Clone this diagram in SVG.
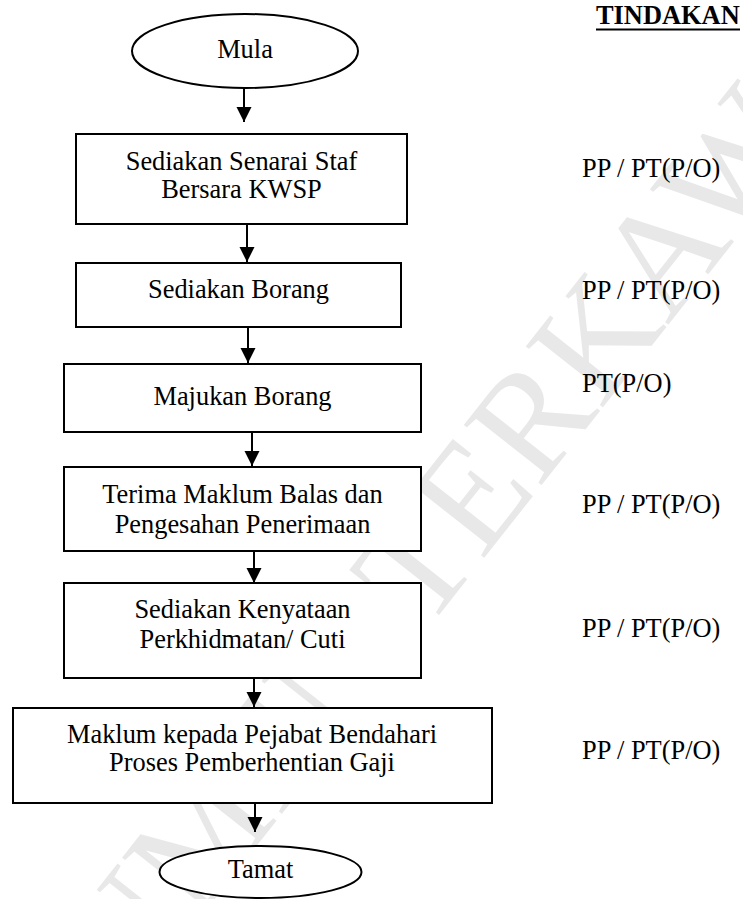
<svg xmlns="http://www.w3.org/2000/svg" width="743" height="899" viewBox="0 0 743 899">
<style>
.t{font-family:"Liberation Serif","Times New Roman",serif;font-size:26.4px;fill:#000}
.c{text-anchor:middle}
.box{fill:#fff;stroke:#000;stroke-width:2}
.wm{font-family:"Liberation Serif","Times New Roman",serif;font-size:150px;fill:#e8e8e8}
.con{stroke:#000;stroke-width:2;fill:none}
</style>
<defs>
<marker id="ah" markerUnits="userSpaceOnUse" markerWidth="16" markerHeight="16" refX="15" refY="7.5" orient="auto">
<path d="M0,0 L15,7.5 L0,15 z" fill="#000"/>
</marker>
</defs>
<rect width="743" height="899" fill="#fff"/>
<text class="wm" transform="translate(-72,1262) rotate(-51.7)">DOKUMEN TERKAWAL</text>
<g id="connectors">
<line class="con" x1="244" y1="89" x2="244" y2="122" marker-end="url(#ah)"/>
<line class="con" x1="247" y1="225" x2="247" y2="262" marker-end="url(#ah)"/>
<line class="con" x1="248" y1="328" x2="248" y2="363" marker-end="url(#ah)"/>
<line class="con" x1="252" y1="433" x2="252" y2="466" marker-end="url(#ah)"/>
<line class="con" x1="254" y1="552" x2="254" y2="583" marker-end="url(#ah)"/>
<line class="con" x1="254" y1="679" x2="254" y2="707" marker-end="url(#ah)"/>
<line class="con" x1="255" y1="804" x2="255" y2="832" marker-end="url(#ah)"/>
</g>
<g id="mula">
<ellipse class="box" cx="245" cy="51" rx="113" ry="37"/>
<text class="t c" x="245" y="58">Mula</text>
</g>
<g id="step1">
<rect class="box" x="76" y="134" width="331" height="90"/>
<text class="t c" x="241.5" y="170">Sediakan Senarai Staf</text>
<text class="t c" x="241.5" y="198">Bersara KWSP</text>
</g>
<g id="step2">
<rect class="box" x="76" y="263" width="325" height="64"/>
<text class="t c" x="238.5" y="298">Sediakan Borang</text>
</g>
<g id="step3">
<rect class="box" x="64" y="364" width="357" height="68"/>
<text class="t c" x="242.5" y="405">Majukan Borang</text>
</g>
<g id="step4">
<rect class="box" x="64" y="467" width="357" height="84"/>
<text class="t c" x="242.5" y="503">Terima Maklum Balas dan</text>
<text class="t c" x="242.5" y="533">Pengesahan Penerimaan</text>
</g>
<g id="step5">
<rect class="box" x="64" y="583" width="357" height="95"/>
<text class="t c" x="242.5" y="618">Sediakan Kenyataan</text>
<text class="t c" x="242.5" y="648">Perkhidmatan/ Cuti</text>
</g>
<g id="step6">
<rect class="box" x="13" y="708" width="479" height="95"/>
<text class="t c" x="252" y="743">Maklum kepada Pejabat Bendahari</text>
<text class="t c" x="252" y="771">Proses Pemberhentian Gaji</text>
</g>
<g id="tamat">
<ellipse class="box" cx="260.5" cy="872" rx="101" ry="26"/>
<text class="t c" x="260.5" y="878">Tamat</text>
</g>
<g id="tindakan">
<text class="t" x="596" y="24" font-weight="bold">TINDAKAN</text>
<line x1="596" y1="29.5" x2="740" y2="29.5" stroke="#000" stroke-width="2"/>
<text class="t" x="582" y="177">PP / PT(P/O)</text>
<text class="t" x="582" y="299">PP / PT(P/O)</text>
<text class="t" x="582" y="392">PT(P/O)</text>
<text class="t" x="582" y="513">PP / PT(P/O)</text>
<text class="t" x="582" y="637">PP / PT(P/O)</text>
<text class="t" x="582" y="759">PP / PT(P/O)</text>
</g>
</svg>
